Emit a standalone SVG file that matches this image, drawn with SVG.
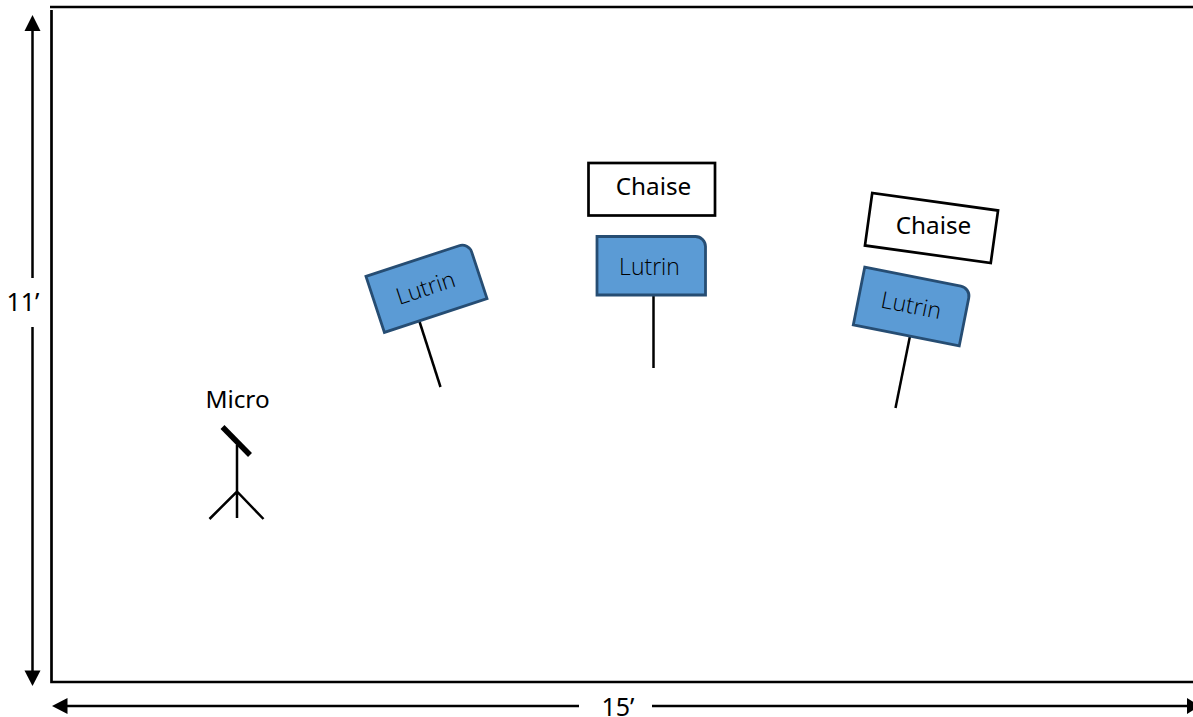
<svg xmlns="http://www.w3.org/2000/svg" width="1193" height="717" viewBox="0 0 1193 717">
<style>
.t{font-family:"Noto Sans","Open Sans","Liberation Sans",sans-serif;font-size:24.300px;fill:#000;text-anchor:middle}
.d{font-family:"Noto Sans","Open Sans","Liberation Sans",sans-serif;font-size:25px;fill:#000;text-anchor:middle}
.l{font-family:"Open Sans","Noto Sans","Liberation Sans",sans-serif;font-weight:300;font-size:23px;fill:#000;text-anchor:middle}
.ln{stroke:#000;stroke-width:2.500;fill:none}
.lu{fill:#5b9bd5;stroke:#264d73;stroke-width:2.800}
.ch{fill:#fff;stroke:#000;stroke-width:2.700}
.ah{fill:#000}
</style>
<rect width="1193" height="717" fill="#fff"/>
<g id="frame" class="ln" style="stroke-width:2.700">
<path d="M50 7H1193"/>
<path d="M51.500 10V682H1193"/>
</g>
<g id="connectors" class="ln">
<path d="M32.500 28V278M32.500 327V673"/>
<path d="M65 706H579M652 706H1190"/>
<polygon class="ah" style="stroke:none" points="32.500,15 24.500,31 40.500,31"/>
<polygon class="ah" style="stroke:none" points="32.500,686 24.500,670.500 40.500,670.500"/>
<polygon class="ah" style="stroke:none" points="52,706 67.500,698 67.500,714"/>
<polygon class="ah" style="stroke:none" points="1200,706 1187,698 1187,714"/>
</g>
<text class="d" x="23" y="311" id="dim-11">11’</text>
<text class="d" x="618" y="716" id="dim-15">15’</text>
<g id="micro">
<text class="t" x="237.500" y="408">Micro</text>
<path class="ln" d="M237 445V518M209.500 519L237 491.500L263.500 519"/>
<path d="M222.500 427L250 455" stroke="#000" stroke-width="5.500" fill="none"/>
</g>
<g id="lutrin-left">
<path class="ln" d="M419 320L440.500 387"/>
<g transform="translate(426.500 287.500) rotate(-18.200)">
<path class="lu" d="M-54 -29.500H44A10 10 0 0 1 54 -19.500V29.500H-54Z"/>
<text class="l" x="-1" y="8">Lutrin</text>
</g>
</g>
<g id="chaise-center">
<rect class="ch" x="588.500" y="163" width="126.500" height="52.500"/>
<text class="t" x="653.500" y="195">Chaise</text>
</g>
<g id="lutrin-center">
<path class="ln" d="M653.500 295V368"/>
<path class="lu" d="M597 236.500H695.500A10 10 0 0 1 705.500 246.500V295H597Z"/>
<text class="l" x="649.500" y="275">Lutrin</text>
</g>
<g id="chaise-right">
<rect class="ch" transform="translate(931.500 228) rotate(7.900)" x="-63.500" y="-26.500" width="127" height="53"/>
<text class="t" x="933.500" y="234">Chaise</text>
</g>
<g id="lutrin-right">
<path class="ln" d="M910 336L895.500 408"/>
<g transform="translate(912 306.500) rotate(11.200)">
<path class="lu" d="M-54 -29.500H44A10 10 0 0 1 54 -19.500V29.500H-54Z"/>
<text class="l" x="-1" y="7">Lutrin</text>
</g>
</g>
</svg>
